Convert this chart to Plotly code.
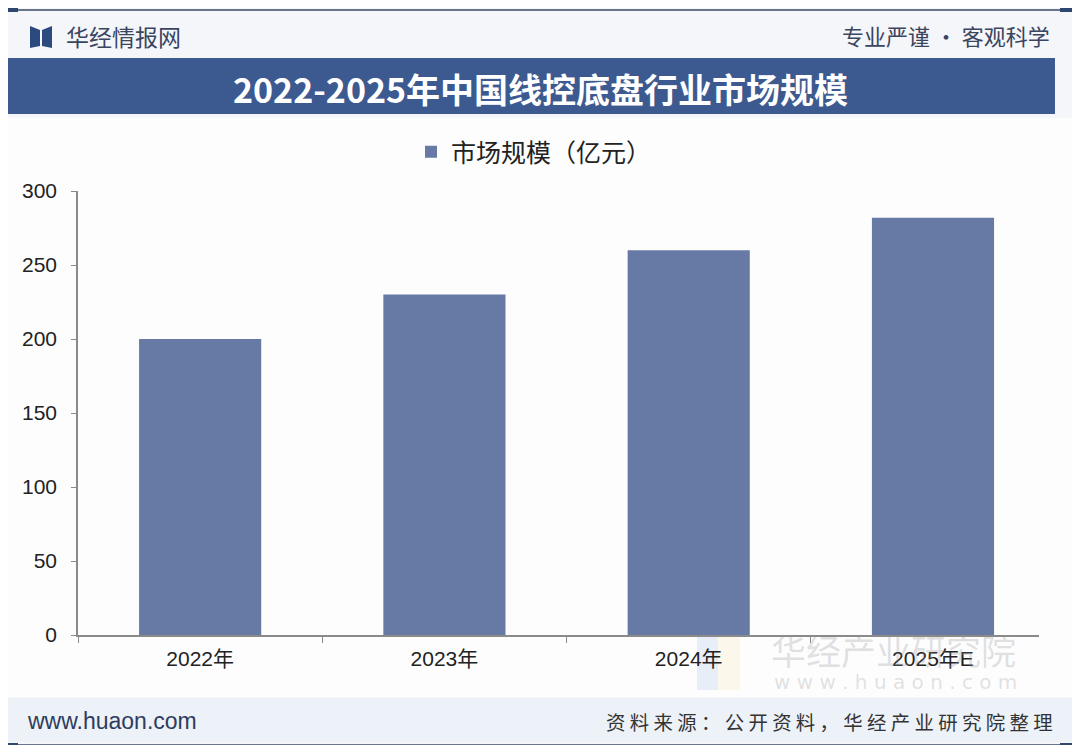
import plotly.graph_objects as go

categories = ["2022年", "2023年", "2024年", "2025年E"]
values = [200, 230, 260, 282]
series_name = "市场规模（亿元）"
title_text = "2022-2025年中国线控底盘行业市场规模"
y_ticks = [0, 50, 100, 150, 200, 250, 300]

# the page body has an 8px margin: work in screen pixels, shift by OFF
OFF = 8
W, H = 1064, 737
L, R, T, B = 78, 1039, 191, 635  # plot area in screen pixels


def px(x):
    return (x - L) / (R - L)


def py(y):
    return (B - y) / (B - T)


FONT = "Noto Sans CJK SC"
NUMFONT = "Liberation Sans, Noto Sans CJK SC"
BAR = "#667aa5"
NAVY = "#3d5a90"

fig = go.Figure()
fig.add_trace(go.Bar(
    x=categories, y=values, name=series_name,
    marker=dict(color=BAR, line=dict(width=0)),
    width=0.5, showlegend=True,
))

shapes = []
# top line with caps
shapes.append(dict(type="line", xref="paper", yref="paper", x0=px(5), x1=px(1075), y0=py(10), y1=py(10),
                   line=dict(color="#3b4a66", width=1.5)))
shapes.append(dict(type="line", xref="paper", yref="paper", x0=px(5), x1=px(18), y0=py(10), y1=py(10),
                   line=dict(color="#2f4670", width=4)))
shapes.append(dict(type="line", xref="paper", yref="paper", x0=px(1060), x1=px(1072), y0=py(10), y1=py(10),
                   line=dict(color="#2f4670", width=4)))
# bottom line with caps
shapes.append(dict(type="line", xref="paper", yref="paper", x0=px(5), x1=px(1075), y0=py(745), y1=py(745),
                   line=dict(color="#3b4a66", width=1.5)))
shapes.append(dict(type="line", xref="paper", yref="paper", x0=px(5), x1=px(18), y0=py(745), y1=py(745),
                   line=dict(color="#2f4670", width=4)))
shapes.append(dict(type="line", xref="paper", yref="paper", x0=px(1060), x1=px(1072), y0=py(745), y1=py(745),
                   line=dict(color="#2f4670", width=4)))
# title band
shapes.append(dict(type="rect", xref="paper", yref="paper", x0=px(5), x1=px(1055), y0=py(114), y1=py(58),
                   fillcolor=NAVY, line=dict(width=0), layer="below"))
# footer band
shapes.append(dict(type="rect", xref="paper", yref="paper", x0=px(5), x1=px(1075), y0=py(742), y1=py(698),
                   fillcolor="#edf1f8", line=dict(width=0), layer="below"))
# white chart area
shapes.append(dict(type="rect", xref="paper", yref="paper", x0=px(5), x1=px(1075), y0=py(697), y1=py(118),
                   fillcolor="#fdfdfe", line=dict(width=0), layer="below"))


def poly(points):
    return "M " + " L ".join(f"{px(a)},{py(b)}" for a, b in points) + " Z"


# logo (book shape)
shapes.append(dict(type="path", xref="paper", yref="paper",
                   path=poly([(30, 26), (40, 30), (40, 46), (30, 48)]),
                   fillcolor="#2c4a80", line=dict(width=0)))
shapes.append(dict(type="path", xref="paper", yref="paper",
                   path=poly([(42, 30), (52, 26), (52, 48), (42, 46)]),
                   fillcolor="#2c4a80", line=dict(width=0)))
# faint watermark logo blocks
shapes.append(dict(type="rect", xref="paper", yref="paper", x0=px(697), x1=px(718), y0=py(690), y1=py(637),
                   fillcolor="rgba(120,160,220,0.16)", line=dict(width=0), layer="below"))
shapes.append(dict(type="rect", xref="paper", yref="paper", x0=px(718), x1=px(740), y0=py(690), y1=py(637),
                   fillcolor="rgba(240,215,130,0.16)", line=dict(width=0), layer="below"))

annotations = [
    dict(text="华经情报网", x=px(64), y=py(36), xref="paper", yref="paper", xanchor="left", yanchor="middle",
         showarrow=False, font=dict(family=FONT, size=23, color="#3a4560")),
    dict(text="专业严谨 • 客观科学", x=px(1052), y=py(35), xref="paper", yref="paper", xanchor="right", yanchor="middle",
         showarrow=False, font=dict(family=FONT, size=22, color="#3a4560")),
    dict(text="<b>" + title_text + "</b>", x=px(540), y=py(89), xref="paper", yref="paper", xanchor="center",
         yanchor="middle", showarrow=False, font=dict(family=FONT, size=34, color="white")),
    dict(text="www.huaon.com", x=px(25), y=py(721), xref="paper", yref="paper", xanchor="left", yanchor="middle",
         showarrow=False, font=dict(family="Liberation Sans", size=23, color="#2e3c5e")),
    dict(text="资 料 来 源 ： 公 开 资 料 ， 华 经 产 业 研 究 院 整 理", x=px(1055), y=py(721), xref="paper",
         yref="paper", xanchor="right", yanchor="middle", showarrow=False,
         font=dict(family=FONT, size=19.4, color="#333333")),
    dict(text="华经产业研究院", x=px(893), y=py(649), xref="paper", yref="paper", xanchor="center", yanchor="middle",
         showarrow=False, font=dict(family=FONT, size=35, color="rgba(150,150,150,0.28)")),
    dict(text="w w w . h u a o n . c o m", x=px(895), y=py(682), xref="paper", yref="paper", xanchor="center",
         yanchor="middle", showarrow=False, font=dict(family="DejaVu Sans", size=20, color="rgba(150,150,150,0.28)")),
]

fig.update_layout(
    width=W, height=H,
    margin=dict(l=L - OFF, r=W - (R - OFF), t=T - OFF, b=H - (B - OFF), pad=0),
    paper_bgcolor="#f4f6fa",
    plot_bgcolor="rgba(0,0,0,0)",
    font=dict(family=FONT, color="#222222"),
    showlegend=True,
    legend=dict(orientation="h", x=px(411), xanchor="left", y=py(152), yanchor="middle",
                font=dict(family=FONT, size=25, color="#222222"), bgcolor="rgba(0,0,0,0)",
                itemwidth=30),
    xaxis=dict(
        range=[-0.5, 3.434],
        showline=True, linecolor="#8a8a8a", linewidth=1.5,
        ticks="outside", tickson="boundaries", ticklen=6, tickcolor="#8a8a8a",
        tickfont=dict(family=NUMFONT, size=21, color="#222222"),
        ticklabelstandoff=4,
        showgrid=False, zeroline=False,
    ),
    yaxis=dict(
        range=[0, 300], tickvals=y_ticks,
        showline=True, linecolor="#8a8a8a", linewidth=1.5,
        ticks="outside", ticklen=5, tickcolor="#8a8a8a",
        tickfont=dict(family=NUMFONT, size=21, color="#222222"),
        ticklabelstandoff=10,
        showgrid=False, zeroline=False,
    ),
    shapes=shapes,
    annotations=annotations,
)

fig.write_html("out.html")
